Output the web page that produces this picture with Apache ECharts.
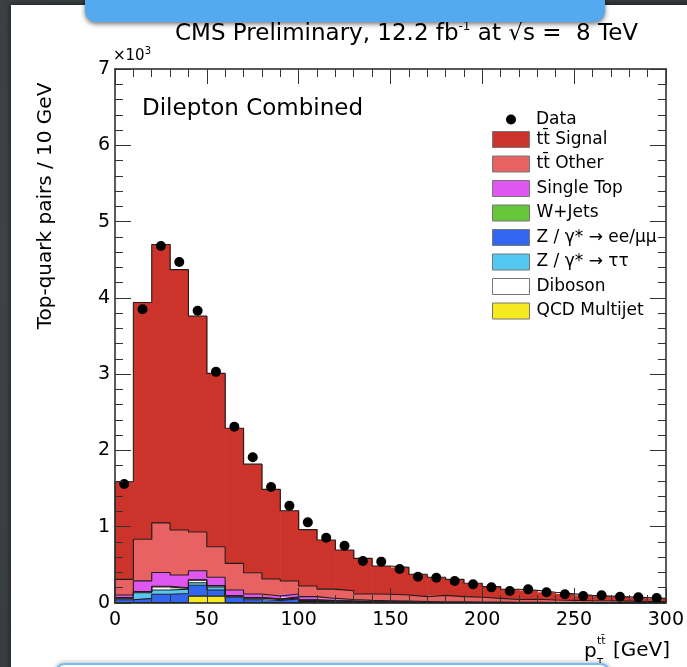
<!DOCTYPE html>
<html>
<head>
<meta charset="utf-8">
<script src="https://cdn.jsdelivr.net/npm/echarts@6/dist/echarts.min.js"></script>
<style>
  html, body { margin: 0; padding: 0; width: 687px; height: 667px; overflow: hidden;
    background: radial-gradient(circle at 30% 40%, #45484b 0%, #36393c 100%); }
  #card { position: absolute; left: 11px; top: 5px; width: 700px; height: 700px; background: #fff;
    box-shadow: 0 0 6px rgba(0,0,0,0.7); }
  #chart { position: absolute; left: 0; top: 0; width: 687px; height: 667px; }
  #topbar { position: absolute; left: 85px; top: -14px; width: 520px; height: 36px; background: #55a9ef;
    border-radius: 11px; box-shadow: 0 2px 5px rgba(0,0,0,0.55); }
  #botbar { position: absolute; left: 54px; top: 663px; width: 553px; height: 40px; background: #fff;
    border: 2px solid #7bbcf3; border-radius: 11px; box-shadow: 0 -1px 4px rgba(0,0,0,0.25); }
</style>
</head>
<body>
<div id="card"></div>
<div id="chart"></div>
<div id="topbar"></div>
<div id="botbar"></div>
<script>
// Lower edges of the 10 GeV bins in pT(tt̄) [GeV]
const binLow = [0, 10, 20, 30, 40, 50, 60, 70, 80, 90, 100, 110, 120, 130, 140,
                150, 160, 170, 180, 190, 200, 210, 220, 230, 240, 250, 260, 270, 280, 290];
const binWidth = 10;

// Observed top-quark pairs per bin
const dataCounts = [1560, 3850, 4680, 4470, 3830, 3030, 2310, 1910, 1520, 1275,
                    1057, 856, 751, 550, 542, 446, 345, 332, 288, 245,
                    205, 157, 179, 140, 114, 92, 100, 83, 74, 66];

// Simulated contributions per bin (events)
const qcdMultijet = [3, 5, 5, 5, 90, 90, 5, 3, 2, 2, 1, 1, 1, 0, 0,
                     0, 0, 0, 0, 0, 0, 0, 0, 0, 0, 0, 0, 0, 0, 0];
const zEEMuMu     = [40, 55, 110, 120, 142, 80, 70, 40, 30, 50, 20, 15, 12, 8, 6,
                     5, 4, 3, 3, 2, 2, 2, 1, 1, 1, 1, 1, 0, 0, 0];
const zTauTau     = [20, 75, 55, 55, 34, 40, 15, 20, 15, 15, 10, 8, 6, 4, 3,
                     2, 2, 1, 1, 1, 1, 1, 1, 0, 0, 0, 0, 0, 0, 0];
const diboson     = [5, 10, 40, 10, 34, 15, 5, 5, 5, 8, 8, 6, 6, 5, 5,
                     4, 4, 3, 3, 3, 2, 2, 2, 2, 1, 1, 1, 1, 1, 1];
const wJets       = [3, 5, 10, 10, 5, 5, 3, 3, 2, 2, 2, 2, 1, 1, 1,
                     1, 0, 0, 0, 0, 0, 0, 0, 0, 0, 0, 0, 0, 0, 0];
const singleTop   = [34, 140, 180, 167, 118, 107, 72, 47, 38, 41, 42, 28, 20, 16, 14,
                     12, 10, 9, 8, 7, 6, 5, 5, 4, 4, 3, 3, 3, 2, 2];
const ttOther     = [205, 545, 650, 590, 507, 401, 350, 279, 223, 170, 140, 122, 114, 84, 85,
                     81, 63, 84, 68, 62, 49, 35, 41, 33, 29, 25, 25, 21, 17, 17];
const ttSignal    = [1280, 3105, 3650, 3413, 2830, 2272, 1770, 1423, 1175, 922, 739, 644, 535, 467, 371,
                     362, 293, 237, 227, 183, 155, 135, 115, 100, 85, 70, 60, 55, 50, 40];

// Axis tick labels
const xTickValues = [0, 50, 100, 150, 200, 250, 300];
const yTickLabels = ['0', '1', '2', '3', '4', '5', '6', '7'];

const FONT = 'DejaVu Sans';

const NAME_SIGNAL = 't\u0074\u0304 Signal';
const NAME_OTHER = 't\u0074\u0304 Other';
const NAME_ZLL = 'Z / \u03b3* \u2192 ee/\u03bc\u03bc';
const NAME_ZTT = 'Z / \u03b3* \u2192 \u03c4\u03c4';

// Stack, listed from the bottom layer upwards
const layers = [
  { name: 'QCD Multijet', values: qcdMultijet, color: '#f5ea1f' },
  { name: NAME_ZLL,       values: zEEMuMu,     color: '#3366f0' },
  { name: NAME_ZTT,       values: zTauTau,     color: '#55c8f2' },
  { name: 'Diboson',      values: diboson,     color: '#ffffff' },
  { name: 'W+Jets',       values: wJets,       color: '#66c63a' },
  { name: 'Single Top',   values: singleTop,   color: '#e056f0' },
  { name: NAME_OTHER,     values: ttOther,     color: '#e86263' },
  { name: NAME_SIGNAL,    values: ttSignal,    color: '#cc342b' }
];

// Legend entries, top to bottom
const legendOrder = [NAME_SIGNAL, NAME_OTHER, 'Single Top', 'W+Jets', NAME_ZLL, NAME_ZTT, 'Diboson', 'QCD Multijet'];

function renderBin(params, api) {
  const a = api.coord([api.value(0), api.value(3)]);
  const b = api.coord([api.value(1), api.value(2)]);
  return {
    type: 'rect',
    shape: { x: a[0], y: a[1], width: b[0] - a[0] + 0.6, height: b[1] - a[1] },
    style: { fill: api.visual('color') }
  };
}

const series = [];
let below = binLow.map(() => 0);
layers.forEach(layer => {
  const above = below.map((v, i) => v + layer.values[i]);
  const lower = below.slice();
  series.push({
    type: 'custom',
    name: layer.name,
    renderItem: renderBin,
    itemStyle: { color: layer.color },
    encode: { x: [0, 1], y: [2, 3] },
    data: binLow.map((x0, i) => [x0, x0 + binWidth, lower[i], above[i]]),
    clip: true,
    silent: true,
    z: 2
  });
  // step outline along the top of the cumulative histogram
  const outline = [[binLow[0], 0]];
  binLow.forEach((x0, i) => outline.push([x0, above[i]]));
  outline.push([binLow[binLow.length - 1] + binWidth, above[above.length - 1]]);
  outline.push([binLow[binLow.length - 1] + binWidth, 0]);
  series.push({
    type: 'line',
    step: 'end',
    data: outline,
    symbol: 'none',
    silent: true,
    lineStyle: { color: '#221c1c', width: 1.1 },
    z: 3
  });
  below = above;
});

series.push({
  type: 'scatter',
  name: 'Data',
  data: binLow.map((x0, i) => [x0 + binWidth / 2, dataCounts[i]]),
  symbol: 'circle',
  symbolSize: 10,
  itemStyle: { color: '#000', opacity: 1 },
  silent: true,
  z: 5
});

const tickStyle = { color: '#333', width: 1 };
function xAxisDef(pos, labels) {
  return {
    type: 'value', position: pos, min: 0, max: 300, interval: 50, z: 10,
    axisLine: { show: true, onZero: false, lineStyle: { color: '#222', width: 1.6 } },
    axisTick: { show: true, inside: true, length: 15, lineStyle: tickStyle },
    minorTick: { show: true, splitNumber: 5, length: 8, lineStyle: tickStyle },
    splitLine: { show: false },
    axisLabel: {
      show: labels, margin: 8, color: '#000', fontFamily: FONT, fontSize: 19,
      customValues: xTickValues, showMaxLabel: true
    }
  };
}
function yAxisDef(pos, labels) {
  return {
    type: 'value', position: pos, min: 0, max: 7000, interval: 1000, z: 10,
    axisLine: { show: true, onZero: false, lineStyle: { color: '#333', width: 1.6 } },
    axisTick: { show: true, inside: true, length: 16, lineStyle: tickStyle },
    minorTick: { show: true, splitNumber: 5, length: 8, lineStyle: tickStyle },
    splitLine: { show: false },
    axisLabel: {
      show: labels, margin: 5, color: '#000', fontFamily: FONT, fontSize: 19,
      formatter: v => yTickLabels[Math.round(v / 1000)]
    }
  };
}

const legendText = { fontFamily: FONT, fontSize: 17, color: '#000', lineHeight: 16 };

const option = {
  animation: false,
  backgroundColor: 'transparent',
  grid: { left: 115, right: 17, top: 69, bottom: 64, show: false },
  xAxis: [xAxisDef('bottom', true), xAxisDef('top', false)],
  yAxis: [yAxisDef('left', true), yAxisDef('right', false)],
  legend: [
    {
      data: ['Data'], left: 506, top: 111, padding: 0,
      itemWidth: 10, itemHeight: 10, icon: 'circle', selectedMode: false,
      itemStyle: { color: '#000', opacity: 1 },
      textStyle: Object.assign({ padding: [0, 0, 0, 15] }, legendText)
    },
    {
      data: legendOrder,
      orient: 'vertical', left: 492, top: 131, padding: 0,
      itemWidth: 37, itemHeight: 16, itemGap: 7.5, icon: 'rect', selectedMode: false,
      itemStyle: { borderColor: '#777', borderWidth: 1 },
      textStyle: Object.assign({ padding: [0, 0, 0, 2] }, legendText)
    }
  ],
  graphic: [
    {
      type: 'text', x: 175, y: 34, silent: true,
      style: {
        text: '{n|CMS Preliminary, 12.2 fb}{s|-1}{n| at \u221as =  8 TeV}',
        verticalAlign: 'middle',
        rich: {
          n: { fontFamily: FONT, fontSize: 23, fill: '#000', lineHeight: 27 },
          s: { fontFamily: FONT, fontSize: 12, fill: '#000', verticalAlign: 'top', lineHeight: 27 }
        }
      }
    },
    {
      type: 'text', x: 142, y: 109, silent: true,
      style: { text: 'Dilepton Combined', fontFamily: FONT, fontSize: 23, fill: '#000', verticalAlign: 'middle' }
    },
    {
      type: 'text', x: 113, y: 66, silent: true,
      style: {
        text: '{m|\u00d710}{s|3}', verticalAlign: 'bottom',
        rich: {
          m: { fontFamily: FONT, fontSize: 15, fill: '#000', lineHeight: 20 },
          s: { fontFamily: FONT, fontSize: 10, fill: '#000', verticalAlign: 'top', lineHeight: 20 }
        }
      }
    },
    {
      type: 'text', x: 46, y: 206, rotation: Math.PI / 2, silent: true,
      style: { text: 'Top-quark pairs / 10 GeV', fontFamily: FONT, fontSize: 20, fill: '#000',
               align: 'center', verticalAlign: 'middle' }
    },
    {
      type: 'text', x: 584, y: 652, silent: true,
      style: { text: 'p', fontFamily: FONT, fontSize: 20, fill: '#000', verticalAlign: 'middle' }
    },
    {
      type: 'text', x: 597, y: 641, silent: true,
      style: { text: 't\u0074\u0304', fontFamily: FONT, fontSize: 11, fill: '#000', verticalAlign: 'middle' }
    },
    {
      type: 'text', x: 597, y: 663, silent: true,
      style: { text: 'T', fontFamily: FONT, fontSize: 10, fill: '#000', verticalAlign: 'middle' }
    },
    {
      type: 'text', x: 670, y: 651, silent: true,
      style: { text: '[GeV]', fontFamily: FONT, fontSize: 20, fill: '#000', align: 'right', verticalAlign: 'middle' }
    }
  ],
  series: series
};

const chart = echarts.init(document.getElementById('chart'), null, { renderer: 'canvas' });
chart.setOption(option);
</script>
</body>
</html>
